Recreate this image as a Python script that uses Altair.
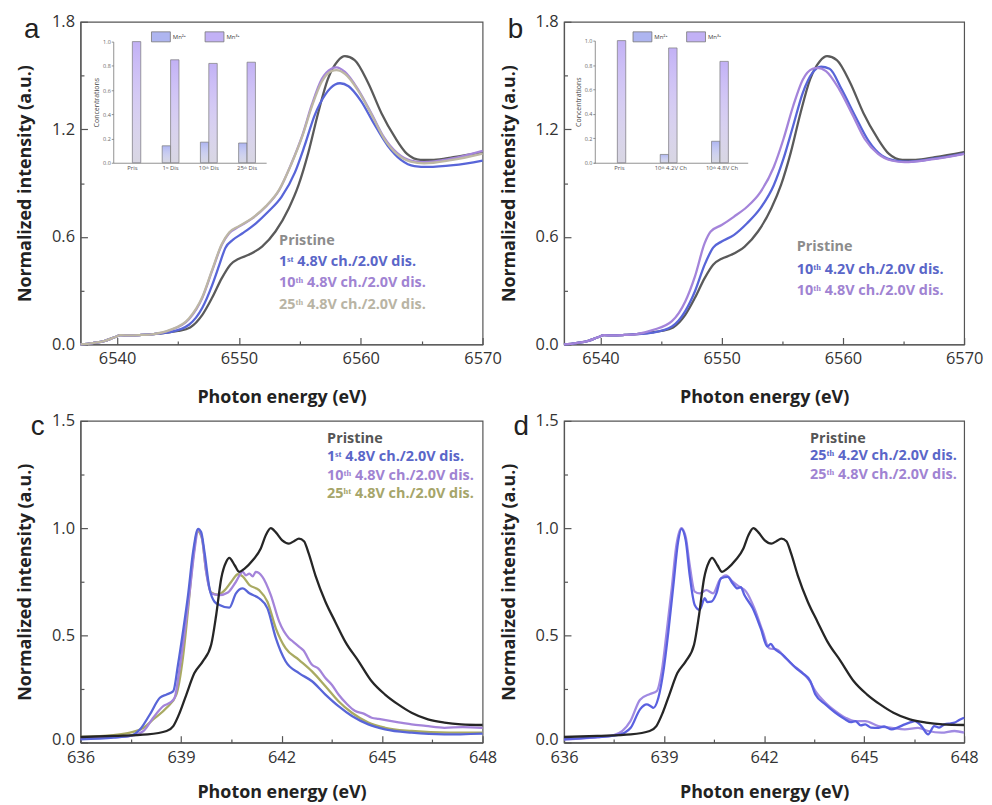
import altair as alt
import pandas as pd

# ---------------- Mn K-edge XANES (panels a, b) ----------------
k_pre_e = [6537.0, 6538.0, 6539.0, 6539.8, 6540.3, 6541.0, 6542.0, 6543.0]
k_pre_i = [0.0, 0.008, 0.02, 0.04, 0.052, 0.05, 0.053, 0.058]

k_pris_e = [6544.3, 6545.0, 6546.0, 6547.0, 6547.8, 6548.6, 6549.3, 6550.0, 6550.8, 6551.9,
            6553.0, 6554.1, 6554.9, 6555.7, 6556.5, 6557.3, 6558.1, 6558.7, 6559.5, 6560.6,
            6561.7, 6562.8, 6563.8, 6564.9, 6566.0, 6567.6, 6570.0]
k_pris_i = [0.068, 0.075, 0.095, 0.165, 0.26, 0.37, 0.445, 0.478, 0.50, 0.546,
            0.63, 0.76, 0.89, 1.07, 1.29, 1.48, 1.58, 1.608, 1.586, 1.46,
            1.29, 1.156, 1.063, 1.03, 1.03, 1.045, 1.073]

k_1st_e = [6544.3, 6545.9, 6547.0, 6547.8, 6548.4, 6548.9, 6549.5, 6550.3, 6551.4, 6552.4,
           6553.5, 6554.6, 6555.4, 6556.2, 6557.1, 6557.9, 6558.3, 6559.0, 6560.0, 6561.1,
           6562.2, 6563.3, 6564.4, 6565.5, 6567.6, 6570.0]
k_1st_i = [0.068, 0.11, 0.205, 0.33, 0.445, 0.54, 0.583, 0.62, 0.676, 0.74,
           0.823, 0.96, 1.11, 1.275, 1.395, 1.45, 1.457, 1.44, 1.36, 1.23,
           1.11, 1.03, 0.995, 0.99, 1.0, 1.026]

k_10_e = [6544.3, 6545.9, 6547.0, 6547.8, 6548.6, 6549.2, 6550.0, 6551.1, 6552.2, 6553.3,
          6554.3, 6555.2, 6556.0, 6556.8, 6557.6, 6558.0, 6558.7, 6559.8, 6560.9, 6561.9,
          6563.0, 6564.1, 6565.2, 6567.4, 6570.0]
k_10_i = [0.078, 0.14, 0.26, 0.41, 0.556, 0.62, 0.657, 0.703, 0.768, 0.86,
          1.008, 1.165, 1.34, 1.48, 1.538, 1.545, 1.52, 1.42, 1.285, 1.156,
          1.067, 1.026, 1.017, 1.036, 1.08]
k_25_i = [0.08, 0.145, 0.265, 0.415, 0.56, 0.625, 0.66, 0.705, 0.77, 0.862,
          1.005, 1.16, 1.33, 1.465, 1.525, 1.53, 1.51, 1.415, 1.28, 1.15,
          1.06, 1.02, 1.01, 1.028, 1.065]

b_42_e = [6544.3, 6545.9, 6547.0, 6547.8, 6548.6, 6549.3, 6550.0, 6551.0, 6552.1, 6553.2,
          6554.3, 6555.1, 6555.9, 6556.7, 6557.5, 6558.2, 6558.9, 6559.9, 6561.0, 6562.1,
          6563.2, 6564.3, 6565.4, 6567.5, 6570.0]
b_42_i = [0.066, 0.10, 0.186, 0.297, 0.445, 0.54, 0.574, 0.61, 0.676, 0.76,
          0.888, 1.036, 1.22, 1.405, 1.516, 1.549, 1.538, 1.423, 1.276, 1.137,
          1.054, 1.026, 1.02, 1.036, 1.065]
b_48_e = [6544.3, 6545.9, 6547.0, 6547.8, 6548.6, 6549.1, 6550.0, 6551.0, 6552.1, 6553.2,
          6554.3, 6555.1, 6555.9, 6556.7, 6557.5, 6557.9, 6558.6, 6559.7, 6560.8, 6561.8,
          6562.9, 6564.0, 6565.1, 6567.3, 6570.0]
b_48_i = [0.08, 0.13, 0.24, 0.38, 0.565, 0.63, 0.666, 0.712, 0.768, 0.85,
          0.99, 1.146, 1.33, 1.478, 1.538, 1.543, 1.525, 1.423, 1.28, 1.146,
          1.063, 1.026, 1.017, 1.032, 1.063]

# ---------------- Mn L-edge (panels c, d) ----------------
l_pris_e = [636.0, 637.0, 638.0, 638.57, 638.77, 638.96, 639.16, 639.4, 639.65, 639.9,
            640.05, 640.2, 640.35, 640.44, 640.6, 640.74, 640.89, 641.14, 641.38, 641.53,
            641.68, 641.83, 642.02, 642.22, 642.37, 642.52, 642.67, 642.81, 643.01, 643.31,
            643.6, 643.9, 644.3, 644.69, 645.09, 645.48, 645.88, 646.37, 646.86, 647.36, 648.0]
l_pris_i = [0.026, 0.031, 0.038, 0.054, 0.077, 0.139, 0.224, 0.324, 0.379, 0.456,
            0.595, 0.765, 0.843, 0.861, 0.827, 0.796, 0.81, 0.85, 0.905, 0.967,
            1.0, 0.98, 0.943, 0.928, 0.939, 0.951, 0.939, 0.882, 0.78, 0.657,
            0.564, 0.471, 0.379, 0.286, 0.224, 0.178, 0.139, 0.108, 0.093, 0.085, 0.082]

l1_e = [636.0, 636.99, 637.48, 637.78, 638.07, 638.37, 638.57, 638.77, 638.91, 639.06,
        639.21, 639.36, 639.51, 639.6, 639.7, 639.85, 640.0, 640.15, 640.44, 640.64,
        640.84, 641.04, 641.33, 641.58, 641.83, 642.12, 642.52, 642.91, 643.31, 643.7,
        644.1, 644.59, 645.09, 645.88, 646.86, 648.0]
l1_i = [0.015, 0.023, 0.031, 0.062, 0.131, 0.209, 0.224, 0.24, 0.363, 0.518,
        0.688, 0.889, 0.997, 0.982, 0.889, 0.719, 0.657, 0.642, 0.629, 0.696,
        0.719, 0.696, 0.673, 0.626, 0.487, 0.379, 0.324, 0.286, 0.224, 0.17,
        0.124, 0.085, 0.062, 0.046, 0.038, 0.042]

l10_e = [636.0, 637.48, 637.88, 638.17, 638.47, 638.67, 638.81, 638.96, 639.11, 639.26,
         639.41, 639.51, 639.63, 639.75, 639.9, 640.15, 640.4, 640.64, 640.84, 640.94,
         641.04, 641.14, 641.23, 641.43, 641.68, 641.93, 642.22, 642.35, 642.52, 642.65,
         642.91, 643.1, 643.31, 643.5, 643.7, 643.95, 644.2, 644.45, 644.69, 644.9,
         645.28, 645.6, 645.88, 646.3, 646.86, 647.4, 648.0]
l10_i = [0.02, 0.031, 0.054, 0.116, 0.17, 0.186, 0.209, 0.348, 0.518, 0.704,
         0.905, 0.994, 0.951, 0.796, 0.696, 0.688, 0.70, 0.75, 0.796, 0.78,
         0.788, 0.775, 0.796, 0.773, 0.688, 0.564, 0.487, 0.47, 0.448, 0.43,
         0.363, 0.345, 0.301, 0.27, 0.224, 0.18, 0.147, 0.135, 0.116, 0.11,
         0.1, 0.092, 0.085, 0.078, 0.069, 0.072, 0.069]

l25_e = [636.0, 636.99, 637.48, 637.88, 638.17, 638.57, 638.86, 639.06, 639.21, 639.36,
         639.5, 639.62, 639.75, 639.9, 640.1, 640.3, 640.5, 640.7, 640.84, 641.04,
         641.33, 641.58, 641.83, 642.12, 642.52, 642.91, 643.31, 643.7, 644.1, 644.59,
         645.09, 645.88, 647.0, 648.0]
l25_i = [0.026, 0.035, 0.046, 0.069, 0.108, 0.162, 0.224, 0.40, 0.62, 0.86,
         0.985, 0.955, 0.80, 0.70, 0.69, 0.71, 0.75, 0.785, 0.775, 0.735,
         0.711, 0.657, 0.533, 0.44, 0.386, 0.332, 0.263, 0.193, 0.139, 0.093,
         0.069, 0.054, 0.046, 0.046]

d42_e = [636.0, 636.5, 637.0, 637.5, 637.8, 638.0, 638.28, 638.48, 638.6, 638.68,
         638.83, 638.98, 639.13, 639.28, 639.42, 639.52, 639.65, 639.77, 639.92, 640.07,
         640.22, 640.3, 640.42, 640.57, 640.71, 640.91, 641.06, 641.2, 641.3, 641.41,
         641.66, 641.9, 642.1, 642.2, 642.3, 642.55, 642.75, 642.95, 643.15, 643.39,
         643.54, 643.84, 644.14, 644.44, 644.6, 644.74, 644.9, 645.03, 645.2, 645.43,
         645.6, 645.83, 646.0, 646.22, 646.4, 646.52, 646.72, 646.92, 647.1, 647.25,
         647.41, 647.6, 647.71, 647.85, 648.0]
d42_i = [0.015, 0.02, 0.025, 0.032, 0.045, 0.069, 0.155, 0.178, 0.17, 0.162,
         0.209, 0.332, 0.518, 0.734, 0.935, 0.997, 0.943, 0.78, 0.642, 0.619,
         0.673, 0.655, 0.657, 0.696, 0.766, 0.773, 0.742, 0.719, 0.725, 0.688,
         0.626, 0.533, 0.448, 0.46, 0.44, 0.41, 0.379, 0.348, 0.324, 0.286,
         0.224, 0.178, 0.139, 0.108, 0.095, 0.1, 0.08, 0.085, 0.07, 0.069,
         0.075, 0.062, 0.07, 0.085, 0.095, 0.1, 0.077, 0.038, 0.077, 0.07,
         0.085, 0.09, 0.093, 0.105, 0.116]

d48_e = [636.0, 637.49, 637.99, 638.28, 638.58, 638.78, 638.93, 639.08, 639.23, 639.37,
         639.52, 639.65, 639.77, 639.92, 640.07, 640.27, 640.47, 640.67, 640.86, 641.06,
         641.26, 641.46, 641.71, 641.96, 642.15, 642.4, 642.6, 642.85, 643.1, 643.34,
         643.54, 643.84, 644.14, 644.44, 644.73, 645.03, 645.43, 645.83, 646.22, 646.62,
         646.92, 647.32, 647.71, 648.0]
d48_i = [0.015, 0.035, 0.1, 0.2, 0.227, 0.24, 0.332, 0.518, 0.719, 0.92,
         1.0, 0.958, 0.827, 0.704, 0.696, 0.711, 0.696, 0.758, 0.78, 0.75,
         0.727, 0.704, 0.626, 0.518, 0.44, 0.433, 0.402, 0.363, 0.332, 0.294,
         0.24, 0.186, 0.147, 0.116, 0.1, 0.1, 0.077, 0.069, 0.062, 0.069,
         0.054, 0.046, 0.054, 0.046]

# ---------------- insets: Mn2+/Mn3+ concentrations ----------------
species = ["Mn²⁺", "Mn³⁺"]
a_cats = ["Pris", "1ˢᵗ Dis", "10ᵗʰ Dis", "25ᵗʰ Dis"]
a_mn2 = [0.0, 0.14, 0.17, 0.163]
a_mn3 = [1.0, 0.85, 0.82, 0.83]
b_cats = ["Pris", "10ᵗʰ 4.2V Ch", "10ᵗʰ 4.8V Ch"]
b_mn2 = [0.0, 0.068, 0.176]
b_mn3 = [1.0, 0.94, 0.83]

# ---------------- legend texts ----------------
a_texts = ["Pristine", "1ˢᵗ 4.8V ch./2.0V dis.", "10ᵗʰ 4.8V ch./2.0V dis.", "25ᵗʰ 4.8V ch./2.0V dis."]
b_texts = ["Pristine", "10ᵗʰ 4.2V ch./2.0V dis.", "10ᵗʰ 4.8V ch./2.0V dis."]
c_texts = ["Pristine", "1ˢᵗ 4.8V ch./2.0V dis.", "10ᵗʰ 4.8V ch./2.0V dis.", "25ʰᵗ 4.8V ch./2.0V dis."]
d_texts = ["Pristine", "25ᵗʰ 4.2V ch./2.0V dis.", "25ᵗʰ 4.8V ch./2.0V dis."]

# ---------------- styles ----------------
GREY = "#5a5a5a"
BLACK = "#262626"
BLUE = "#5865d8"
PURPLE = "#a484da"
TAN = "#bdb7a4"
OLIVE = "#a9aa62"
D_BLUE = "#5a60e0"
D_PURPLE = "#a08ae2"
T_PRIS_K = "#8c8c8c"
T_PRIS_L = "#555555"
T_BLUE = "#5a66c8"
T_PURPLE = "#a083d2"
T_TAN = "#b9b4a4"
T_OLIVE = "#a6a56a"

W_L, W_R, H_T, H_B = 405, 403, 325, 324


def ticks_for(test):
    return {"condition": {"test": test, "value": -7}, "value": -3.5}


def x_axis(values, test, title_pad, lab_pad):
    return alt.Axis(values=values, labelExpr=f"({test}) ? format(datum.value, 'd') : ''",
                    title="Photon energy (eV)", titlePadding=title_pad, tickSize=ticks_for(test),
                    labelPadding=lab_pad, labelFlush=False, labelOverlap=False)


def y_axis(values, test, title_pad, zero_lift=0):
    return alt.Axis(values=values, labelExpr=f"({test}) ? format(datum.value, '.1f') : ''",
                    title="Normalized intensity (a.u.)", titlePadding=title_pad,
                    tickSize=ticks_for(test), labelPadding=13, labelFlush=False,
                    labelOverlap=False,
                    labelOffset={"condition": {"test": "datum.value == 0", "value": zero_lift},
                                 "value": 0})


def main_layer(xdom, ydom, xa, ya, series, lab_x, lab_y, texts, tcolors, letter, letter_pos):
    X = alt.X("E:Q", scale=alt.Scale(domain=xdom, nice=False, zero=False), axis=xa)
    Y = alt.Y("I:Q", scale=alt.Scale(domain=ydom, nice=False, zero=False), axis=ya)
    layers = []
    for e, i, col in series:
        layers.append(alt.Chart(pd.DataFrame({"E": e, "I": i}))
                      .mark_line(color=col, strokeWidth=2.3, interpolate="monotone")
                      .encode(x=X, y=Y))
    for yv, t, col in zip(lab_y, texts, tcolors):
        layers.append(alt.Chart(pd.DataFrame({"E": [lab_x], "I": [yv], "t": [t]}))
                      .mark_text(align="left", baseline="middle", font="Open Sans", fontSize=14.5,
                                 fontWeight="bold", color=col)
                      .encode(x=X, y=Y, text="t:N"))
    layers.append(alt.Chart(pd.DataFrame({"t": [letter]}))
                  .mark_text(align="center", baseline="alphabetic", font="Liberation Sans",
                             fontSize=28, color="#222222")
                  .encode(x=alt.value(letter_pos[0]), y=alt.value(letter_pos[1]), text="t:N"))
    return alt.layer(*layers)


def inset_layer(cats, mn2, mn3, xr, yr, xoff, yoff, legx, legy, pad_inner):
    rows = []
    for c, v2, v3 in zip(cats, mn2, mn3):
        if v2 > 0:
            rows.append({"cat": c, "sp": species[0], "v": v2})
        rows.append({"cat": c, "sp": species[1], "v": v3})
    df = pd.DataFrame(rows)
    X = alt.X("cat:N", scale=alt.Scale(domain=cats, range=xr, paddingInner=pad_inner,
                                       paddingOuter=pad_inner / 2),
              axis=alt.Axis(orient="bottom", offset=yoff, title=None, labelFontSize=6,
                            labelColor="#555", labelAngle=0, ticks=False, domainColor="#777",
                            domainWidth=0.8, labelPadding=2, labelFont="Open Sans"))
    Y = alt.Y("v:Q", scale=alt.Scale(domain=[0, 1], range=yr, nice=False),
              axis=alt.Axis(orient="left", offset=xoff, values=[0, 0.2, 0.4, 0.6, 0.8, 1.0],
                            format=".1f", title="Concentrations", titleFontSize=7,
                            titleFontWeight="normal", titleColor="#444", titlePadding=3,
                            labelFontSize=5.5, labelColor="#666", tickSize=2, labelPadding=1,
                            domainColor="#777", domainWidth=0.8, tickColor="#777",
                            tickWidth=0.8, labelFlush=False, labelFont="Open Sans"))
    XO = alt.XOffset("sp:N", scale=alt.Scale(domain=species))
    bars = alt.Chart(df).mark_bar().encode(
        x=X, y=Y, xOffset=XO,
        color=alt.Color("sp:N", scale=alt.Scale(domain=species, range=["#aeb5f0", "#c2b1f5"]),
                        legend=alt.Legend(orient="none", legendX=legx, legendY=legy,
                                          direction="horizontal", title=None,
                                          symbolType="M-1,-0.53H1V0.53H-1Z", symbolSize=361,
                                          symbolStrokeColor="#777", symbolStrokeWidth=0.8,
                                          labelFontSize=6, labelColor="#444", columnPadding=16,
                                          labelOffset=2, padding=0, labelFont="Open Sans")))
    shade = alt.Chart(df).mark_bar(
        stroke="#7a7a7a", strokeWidth=0.7,
        fill={"gradient": "linear", "x1": 0, "x2": 0, "y1": 0, "y2": 1,
              "stops": [{"offset": 0, "color": "rgba(255,255,255,0)"},
                        {"offset": 1, "color": "rgba(218,218,224,0.9)"}]}
    ).encode(x=X, y=Y, xOffset=XO)
    return alt.layer(bars, shade)


k_x_vals = [6540, 6545, 6550, 6555, 6560, 6565, 6570]
k_y_vals = [0.0, 0.3, 0.6, 0.9, 1.2, 1.5, 1.8]
l_x_vals = [636, 637.5, 639, 640.5, 642, 643.5, 645, 646.5, 648]
l_y_vals = [0.0, 0.25, 0.5, 0.75, 1.0, 1.25, 1.5]
k_xt = "datum.value % 10 == 0"
k_yt = "round(datum.value * 10) % 6 == 0"
l_xt = "round(datum.value * 10) % 30 == 0"
l_yt = "round(datum.value * 100) % 50 == 0"

pa = k_pre_e
pi_ = k_pre_i
main_a = main_layer(
    [6537, 6570], [0, 1.8], x_axis(k_x_vals, k_xt, 18, 13), y_axis(k_y_vals, k_yt, 17),
    [(pa + k_pris_e, pi_ + k_pris_i, GREY), (pa + k_1st_e, pi_ + k_1st_i, BLUE),
     (pa + k_10_e, pi_ + k_10_i, PURPLE), (pa + k_10_e, pi_ + k_25_i, TAN)],
    6553.3, [0.576, 0.462, 0.342, 0.222], a_texts, [T_PRIS_K, T_BLUE, T_PURPLE, T_TAN],
    "a", (-49, 16))
inset_a = inset_layer(a_cats, a_mn2, a_mn3, [33, 187], [142, 20], -33, -(H_T - 142), 71, 5, 0.56)
panel_a = alt.layer(main_a, inset_a).resolve_scale(x="independent", y="independent").properties(
    width=W_L, height=H_T)

main_b = main_layer(
    [6537, 6570], [0, 1.8], x_axis(k_x_vals, k_xt, 18, 13), y_axis(k_y_vals, k_yt, 17),
    [(pa + k_pris_e, pi_ + k_pris_i, GREY), (pa + b_42_e, pi_ + b_42_i, BLUE),
     (pa + b_48_e, pi_ + b_48_i, PURPLE)],
    6556.2, [0.543, 0.417, 0.297], b_texts, [T_PRIS_K, T_BLUE, T_PURPLE],
    "b", (-49, 16))
inset_b = inset_layer(b_cats, b_mn2, b_mn3, [30, 185], [142, 19], -31, -(H_T - 142), 69, 5, 0.59)
panel_b = alt.layer(main_b, inset_b).resolve_scale(x="independent", y="independent").properties(
    width=W_R, height=H_T)

panel_c = main_layer(
    [636, 648], [0, 1.5], x_axis(l_x_vals, l_xt, 14, 14), y_axis(l_y_vals, l_yt, 17, -3),
    [(l25_e, l25_i, OLIVE), (l10_e, l10_i, PURPLE), (l1_e, l1_i, BLUE),
     (l_pris_e, l_pris_i, BLACK)],
    643.36, [1.415, 1.33, 1.245, 1.16], c_texts, [T_PRIS_L, T_BLUE, T_PURPLE, T_OLIVE],
    "c", (-43, 14)).properties(width=W_L, height=H_B)

panel_d = main_layer(
    [636, 648], [0, 1.5], x_axis(l_x_vals, l_xt, 14, 14), y_axis(l_y_vals, l_yt, 17, -3),
    [(d48_e, d48_i, D_PURPLE), (d42_e, d42_i, D_BLUE), (l_pris_e, l_pris_i, BLACK)],
    643.38, [1.415, 1.334, 1.248], d_texts, [T_PRIS_L, T_BLUE, T_PURPLE],
    "d", (-43, 14)).properties(width=W_R, height=H_B)

chart = alt.concat(
    panel_a, panel_b, panel_c, panel_d, columns=2,
    spacing={"row": 77, "column": 82}, bounds="flush"
).resolve_scale(color="independent").properties(
    padding={"left": 8, "top": 2, "right": 0, "bottom": 0}
).configure_view(stroke="#555555", strokeWidth=1.2).configure_axis(
    labelFont="Open Sans", labelFontSize=16.5, labelColor="#333333",
    titleFont="Open Sans", titleFontSize=18, titleFontWeight="bold", titleColor="#222222",
    domainColor="#555555", domainWidth=1.2, tickColor="#555555", tickWidth=1.2, grid=False
)

chart.save("out.html", embed_options={"renderer": "svg", "actions": False})
